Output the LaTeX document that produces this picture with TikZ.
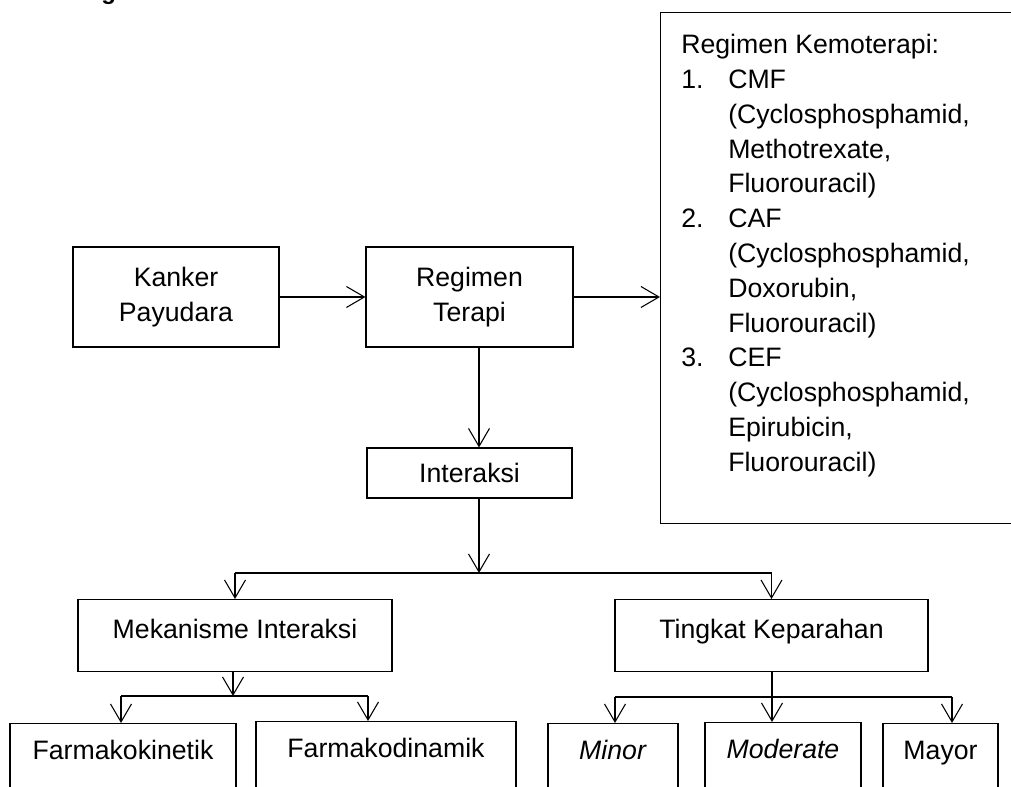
\documentclass[tikz,border=0pt]{standalone}
\usepackage{fontspec}
\setmainfont{Liberation Sans}
\usetikzlibrary{arrows.meta}
\tikzset{
	box/.style={draw, line width=0.8pt, align=center, inner sep=0pt},
	topbox/.style={box, anchor=north, text height=28.9pt, text depth=25.1pt},
	cutbox/.style={box, anchor=north, text height=27pt, text depth=50pt},
	bus/.style={line width=0.8pt},
	link/.style={bus, -{Straight Barb[length=13.5pt,width=15.75pt]}}
}
\begin{document}
\begin{tikzpicture}[x=0.75pt, y=-0.75pt, font=\fontsize{20}{26.1}\selectfont]
	\useasboundingbox (0,0) rectangle (1011,787);
	\clip (0,0) rectangle (1011,787);
	\node[anchor=base west, inner sep=0pt, font=\fontsize{18}{22}\selectfont\bfseries] (judul) at (33,-0.5) {Kerangka Pemikiran};
	
	\node[box, minimum width=154.5pt, minimum height=75pt] (kanker) at (176,297) {Kanker\\Payudara};
	\node[box, minimum width=155.25pt, minimum height=75pt] (regimen) at (469.5,297) {Regimen\\Terapi};
	\node[box, anchor=north west, minimum width=270pt, minimum height=383.25pt] (kemo) at (660,12) {};
	\node[anchor=north west, inner sep=0pt] (kemoteks) at (681,29) {%
		\begin{tabular}{@{}p{35.25pt}@{}l@{}}
			\multicolumn{2}{@{}l@{}}{Regimen Kemoterapi:}\\
			1. & CMF\\
			   & (Cyclosphosphamid,\\
			   & Methotrexate,\\
			   & Fluorouracil)\\
			2. & CAF\\
			   & (Cyclosphosphamid,\\
			   & Doxorubin,\\
			   & Fluorouracil)\\
			3. & CEF\\
			   & (Cyclosphosphamid,\\
			   & Epirubicin,\\
			   & Fluorouracil)
		\end{tabular}};
	\node[box, minimum width=153.75pt, minimum height=37.5pt] (interaksi) at (469.5,473) {Interaksi};
	
	\node[topbox, minimum width=235.5pt] (mekanisme) at (235,599) {Mekanisme Interaksi};
	\node[topbox, minimum width=234.75pt] (tingkat) at (771.5,599) {Tingkat Keparahan};
	
	\node[cutbox, minimum width=169.5pt] (fkin) at (123,723) {Farmakokinetik};
	\node[cutbox, minimum width=195pt] (fdin) at (386,721) {Farmakodinamik};
	\node[cutbox, minimum width=97.5pt] (minor) at (613,723) {\textit{Minor}};
	\node[cutbox, minimum width=117pt] (moderate) at (783,722) {\textit{Moderate}};
	\node[cutbox, minimum width=86.25pt] (mayor) at (940.5,723) {Mayor};
	
	\coordinate (spine) at (479,0);
	\coordinate (cabang) at (479,573);
	\coordinate (cabangA) at (233,696);
	\coordinate (kiriA) at (121,696);
	\coordinate (kananA) at (368,696);
	\coordinate (cabangB) at (772,697);
	\coordinate (kiriB) at (615,697);
	\coordinate (kananB) at (952,697);
	
	\draw[link] (kanker.east) -- (regimen.west);
	\draw[link] (regimen.east) -- (regimen.east -| kemo.west);
	\draw[link] (regimen.south -| spine) -- (interaksi.north -| spine);
	\draw[link] (interaksi.south -| spine) -- (cabang);
	\draw[bus] (mekanisme.north |- cabang) -- (tingkat.north |- cabang);
	\draw[link] (mekanisme.north |- cabang) -- (mekanisme.north);
	\draw[link] (tingkat.north |- cabang) -- (tingkat.north);
	
	\draw[link] (mekanisme.south -| cabangA) -- (cabangA);
	\draw[bus] (kiriA) -- (kananA);
	\draw[link] (kiriA) -- (kiriA |- fkin.north);
	\draw[link] (kananA) -- (kananA |- fdin.north);
	
	\draw[link] (tingkat.south -| cabangB) -- (cabangB |- moderate.north);
	\draw[bus] (kiriB) -- (kananB);
	\draw[link] (kiriB) -- (kiriB |- minor.north);
	\draw[link] (kananB) -- (kananB |- mayor.north);
\end{tikzpicture}
\end{document}
